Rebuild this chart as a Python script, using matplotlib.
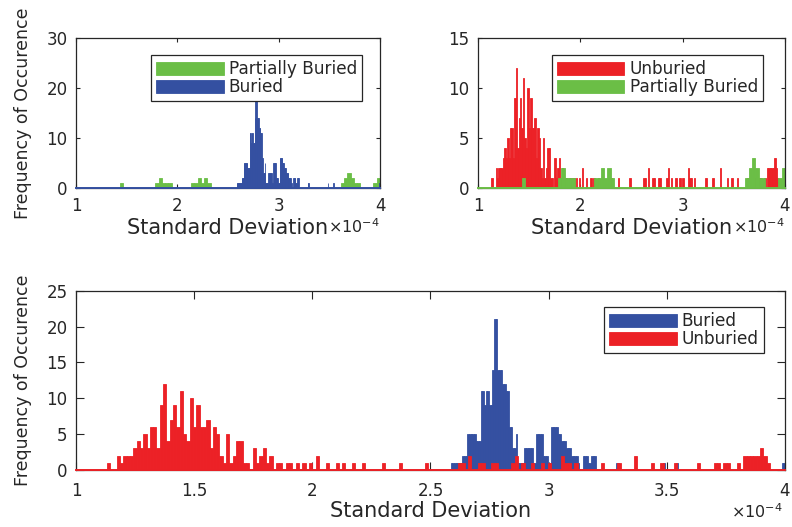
import numpy as np
import matplotlib
matplotlib.use("Agg")
import matplotlib.pyplot as plt

# ---------------- data (standard deviation, in units of 1e-4) ----------------
# Unburied: 200 histogram bins
unburied_start = 1.130
unburied_width = 0.01403
unburied_counts = [
    1, 0, 0, 2, 1, 2, 2, 2, 3, 4, 3, 5, 3, 6, 6, 3, 9, 12, 4, 7,
    9, 6, 11, 5, 4, 10, 6, 9, 6, 6, 7, 3, 6, 5, 2, 1, 5, 1, 2, 4,
    4, 1, 1, 0, 3, 1, 2, 3, 1, 2, 0, 1, 1, 0, 1, 1, 0, 1, 0, 1,
    0, 1, 0, 2, 0, 0, 1, 0, 0, 1, 0, 1, 0, 0, 1, 0, 0, 1, 0, 0,
    0, 0, 0, 1, 0, 0, 0, 0, 1, 0, 0, 0, 0, 0, 0, 0, 1, 0, 0, 0,
    0, 0, 0, 0, 0, 0, 1, 1, 0, 2, 0, 0, 1, 1, 0, 0, 1, 1, 0, 0,
    0, 0, 1, 2, 0, 1, 0, 0, 1, 0, 0, 1, 0, 1, 0, 0, 0, 2, 1, 1,
    0, 1, 0, 0, 0, 0, 0, 0, 0, 1, 0, 0, 0, 0, 1, 0, 0, 0, 0, 2,
    0, 0, 0, 0, 1, 0, 0, 1, 0, 0, 0, 1, 0, 0, 0, 0, 0, 0, 1, 0,
    0, 0, 0, 1, 1, 0, 1, 1, 0, 0, 1, 0, 2, 2, 2, 2, 2, 3, 2, 1,
]

# Buried: 200 histogram bins
buried_start = 2.585
buried_width = 0.007075
buried_counts = [
    1, 1, 1, 1, 1, 1, 1, 2, 2, 2, 5, 5, 5, 5, 5, 4, 4, 4, 11, 11,
    9, 11, 11, 9, 9, 14, 21, 21, 14, 14, 14, 12, 12, 11, 11, 6, 6, 3, 3, 5,
    1, 1, 1, 1, 3, 3, 3, 3, 3, 1, 1, 5, 5, 5, 5, 2, 2, 2, 1, 1,
    6, 6, 6, 6, 5, 5, 4, 4, 4, 3, 3, 3, 2, 2, 2, 2, 1, 0, 0, 2,
    2, 2, 1, 1, 2, 2, 2, 0, 0, 0, 0, 0, 0, 0, 0, 0, 0, 0, 0, 1,
    1, 0, 0, 0, 0, 0, 0, 0, 0, 0, 0, 0, 0, 0, 0, 0, 0, 0, 0, 0,
    0, 0, 0, 0, 0, 0, 0, 1, 0, 0, 0, 0, 0, 0, 0, 1, 0, 0, 0, 0,
    0, 0, 0, 0, 0, 0, 0, 0, 0, 0, 0, 0, 0, 0, 0, 0, 0, 0, 0, 0,
    0, 0, 0, 0, 0, 0, 0, 0, 0, 0, 0, 0, 0, 0, 0, 0, 0, 0, 0, 0,
    0, 0, 0, 0, 0, 0, 0, 0, 0, 0, 0, 0, 0, 0, 0, 0, 0, 0, 1, 1,
]

# Partially buried: 80 histogram bins
partial_start = 1.430
partial_width = 0.0321
partial_counts = [
    1, 0, 0, 0, 0, 0, 0, 0, 0, 0, 0, 1, 2, 1, 1, 1, 0, 0, 0, 0,
    0, 0, 1, 1, 2, 1, 2, 1, 0, 0, 0, 0, 0, 0, 0, 0, 0, 0, 0, 0,
    0, 0, 0, 0, 0, 0, 0, 0, 0, 0, 0, 0, 0, 0, 0, 0, 0, 0, 0, 0,
    0, 0, 0, 0, 0, 0, 0, 0, 1, 2, 3, 2, 1, 1, 0, 0, 0, 0, 1, 2,
]

x_label = "Standard Deviation"
y_label = "Frequency of Occurence"
x_multiplier = r"$\times10^{-4}$"
top_xticks = [1, 2, 3, 4]
bottom_xticks = [1, 1.5, 2, 2.5, 3, 3.5, 4]

# ---------------- style ----------------
plt.rcParams["font.family"] = ["DejaVu Sans"]
C_BLUE = "#3450A1"
C_RED = "#EC2126"
C_GREEN = "#6BBE46"
C_TXT = "#262626"

W, H = 792, 527
fig = plt.figure(figsize=(W / 100, H / 100), dpi=100)


def px_axes(x0, y0, x1, y1):
    return fig.add_axes([x0 / W, 1 - y1 / H, (x1 - x0) / W, (y1 - y0) / H])


def draw_hist(ax, start, width, counts, color, label):
    counts = np.asarray(counts, dtype=float)
    left = start + width * np.arange(len(counts))
    m = counts > 0
    return ax.bar(left[m], counts[m], width=width, align="edge", color=color,
                  edgecolor=color, linewidth=0.6, label=label, zorder=2)


def style(ax, ymax, ystep, xticks, ticklen, xpad, ypad):
    ax.set_xlim(1, 4)
    ax.set_ylim(0, ymax)
    ax.set_xticks(xticks)
    ax.set_xticklabels([f"{t:g}" for t in xticks])
    ax.set_yticks(np.arange(0, ymax + 1, ystep))
    ax.tick_params(direction="in", top=True, right=True, length=ticklen,
                   width=0.8, color=C_TXT, labelsize=12, labelcolor=C_TXT)
    ax.tick_params(axis="x", pad=xpad)
    ax.tick_params(axis="y", pad=ypad)
    for s in ax.spines.values():
        s.set_color(C_TXT)
        s.set_linewidth(0.9)


def legend(ax, anchor):
    leg = ax.legend(loc="upper right", bbox_to_anchor=anchor, borderaxespad=0,
                    fancybox=False, edgecolor=C_TXT, framealpha=1,
                    fontsize=12.2, handlelength=4.0, handleheight=0.82,
                    handletextpad=0.3, labelspacing=0.0, borderpad=0.3)
    leg.get_frame().set_linewidth(0.9)
    for t in leg.get_texts():
        t.set_color(C_TXT)
    return leg


def baseline(ax, color):
    ax.axhline(0, color=color, lw=1.4, zorder=3, clip_on=False)


# ---- top-left: partially buried + buried ----
ax1 = px_axes(76, 37.7, 380, 188.3)
draw_hist(ax1, partial_start, partial_width, partial_counts, C_GREEN, "Partially Buried")
draw_hist(ax1, buried_start, buried_width, buried_counts, C_BLUE, "Buried")
baseline(ax1, C_BLUE)
style(ax1, 30, 10, top_xticks, 3, 6.5, 6)
legend(ax1, (0.941, 0.885))
ax1.set_xlabel(x_label, fontsize=15, color=C_TXT)
ax1.xaxis.set_label_coords(0.5, -0.20)
ax1.set_ylabel(y_label, fontsize=12.5, color=C_TXT)
ax1.yaxis.set_label_coords(-0.145, 0.5)
ax1.text(1.0, -0.297, x_multiplier, transform=ax1.transAxes, ha="right",
         va="baseline", fontsize=11.5, color=C_TXT)

# ---- top-right: unburied + partially buried ----
ax2 = px_axes(478, 37.7, 785, 188.3)
draw_hist(ax2, unburied_start, unburied_width, unburied_counts, C_RED, "Unburied")
draw_hist(ax2, partial_start, partial_width, partial_counts, C_GREEN, "Partially Buried")
baseline(ax2, C_GREEN)
style(ax2, 15, 5, top_xticks, 3, 6.5, 6)
legend(ax2, (0.928, 0.885))
ax2.set_xlabel(x_label, fontsize=15, color=C_TXT)
ax2.xaxis.set_label_coords(0.5, -0.20)
ax2.text(1.0, -0.297, x_multiplier, transform=ax2.transAxes, ha="right",
         va="baseline", fontsize=11.5, color=C_TXT)

# ---- bottom: buried + unburied ----
ax3 = px_axes(76, 290.7, 785, 470)
draw_hist(ax3, buried_start, buried_width, buried_counts, C_BLUE, "Buried")
draw_hist(ax3, unburied_start, unburied_width, unburied_counts, C_RED, "Unburied")
baseline(ax3, C_RED)
style(ax3, 25, 5, bottom_xticks, 6, 9, 6)
legend(ax3, (0.970, 0.909))
ax3.set_xlabel(x_label, fontsize=15, color=C_TXT)
ax3.xaxis.set_label_coords(0.5, -0.175)
ax3.set_ylabel(y_label, fontsize=12.5, color=C_TXT)
ax3.yaxis.set_label_coords(-0.062, 0.5)
ax3.text(0.997, -0.268, x_multiplier, transform=ax3.transAxes, ha="right",
         va="baseline", fontsize=11.5, color=C_TXT)

fig.savefig("out.png", dpi=100)
